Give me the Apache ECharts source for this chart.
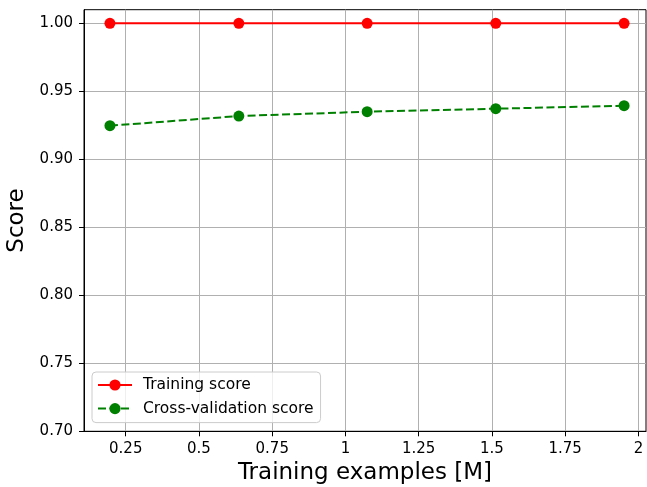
<!DOCTYPE html>
<html>
<head>
<meta charset="utf-8">
<script src="https://cdn.jsdelivr.net/npm/echarts@6/dist/echarts.min.js"></script>
<style>
  html, body { margin: 0; padding: 0; background: #ffffff; }
  #chart { width: 647px; height: 487px; }
</style>
</head>
<body>
<div id="chart"></div>
<script>
// Learning curve: training sizes (millions of examples) and scores
const trainSizes = [0.196, 0.636, 1.074, 1.513, 1.951];
const trainScores = [1.0, 1.0, 1.0, 1.0, 1.0];
const cvScores = [0.9247, 0.9318, 0.9350, 0.9372, 0.9394];

// Axis ticks
const xTicks = [0.25, 0.5, 0.75, 1, 1.25, 1.5, 1.75, 2];
const yTicks = [0.70, 0.75, 0.80, 0.85, 0.90, 0.95, 1.00];

const seriesNames = ['Training score', 'Cross-validation score'];

const FONT = 'DejaVu Sans';
const pairs = (xs, ys) => xs.map((x, i) => [x, ys[i]]);

const chart = echarts.init(document.getElementById('chart'), null, { renderer: 'canvas' });

chart.setOption({
  animation: false,
  backgroundColor: '#ffffff',
  textStyle: { fontFamily: FONT },
  grid: {
    left: 84,
    top: 9.7,
    width: 562,
    height: 421.6,
    show: true,
    borderColor: '#000000',
    borderWidth: 1,
    backgroundColor: 'transparent',
    containLabel: false,
    outerBoundsMode: 'none'
  },
  legend: {
    orient: 'vertical',
    left: 92,
    top: 372,
    data: seriesNames,
    itemWidth: 34,
    itemHeight: 14,
    itemGap: 7.6,
    padding: [5, 7, 6, 5],
    backgroundColor: 'rgba(255,255,255,0.8)',
    borderColor: '#cccccc',
    borderWidth: 1,
    borderRadius: 4,
    textStyle: {
      fontFamily: FONT,
      fontSize: 15.5,
      color: '#000000',
      lineHeight: 16,
      padding: [0, 0, 0, 6]
    }
  },
  xAxis: {
    type: 'value',
    min: 0.1075,
    max: 2.0258,
    name: 'Training examples [M]',
    nameLocation: 'middle',
    nameGap: 30,
    nameTextStyle: { fontFamily: FONT, fontSize: 23, color: '#000000' },
    axisLine: { show: true, onZero: false, lineStyle: { color: '#000000', width: 1 } },
    axisTick: { show: true, length: 5, customValues: xTicks, lineStyle: { color: '#000000', width: 1 } },
    axisLabel: {
      customValues: xTicks,
      margin: 10,
      fontFamily: FONT,
      fontSize: 15,
      color: '#000000',
      formatter: v => String(v)
    },
    splitLine: { show: true, customValues: xTicks, lineStyle: { color: '#b0b0b0', width: 1 } }
  },
  yAxis: {
    type: 'value',
    min: 0.70,
    max: 1.01,
    name: 'Score',
    nameLocation: 'middle',
    nameRotate: 90,
    nameGap: 47,
    nameTextStyle: { fontFamily: FONT, fontSize: 23, color: '#000000' },
    axisLine: { show: true, onZero: false, lineStyle: { color: '#000000', width: 1 } },
    axisTick: { show: true, length: 5, customValues: yTicks, lineStyle: { color: '#000000', width: 1 } },
    axisLabel: {
      customValues: yTicks,
      margin: 11,
      fontFamily: FONT,
      fontSize: 15,
      color: '#000000',
      formatter: v => v.toFixed(2)
    },
    splitLine: { show: true, customValues: yTicks, lineStyle: { color: '#b0b0b0', width: 1 } }
  },
  series: [
    {
      name: seriesNames[0],
      type: 'line',
      data: pairs(trainSizes, trainScores),
      symbol: 'circle',
      symbolSize: 11,
      showSymbol: true,
      lineStyle: { color: '#ff0000', width: 2 },
      itemStyle: { color: '#ff0000' },
      z: 3
    },
    {
      name: seriesNames[1],
      type: 'line',
      data: pairs(trainSizes, cvScores),
      symbol: 'circle',
      symbolSize: 11,
      showSymbol: true,
      lineStyle: { color: '#008000', width: 2, type: [8, 3.5] },
      itemStyle: { color: '#008000' },
      z: 4
    }
  ]
});
</script>
</body>
</html>
